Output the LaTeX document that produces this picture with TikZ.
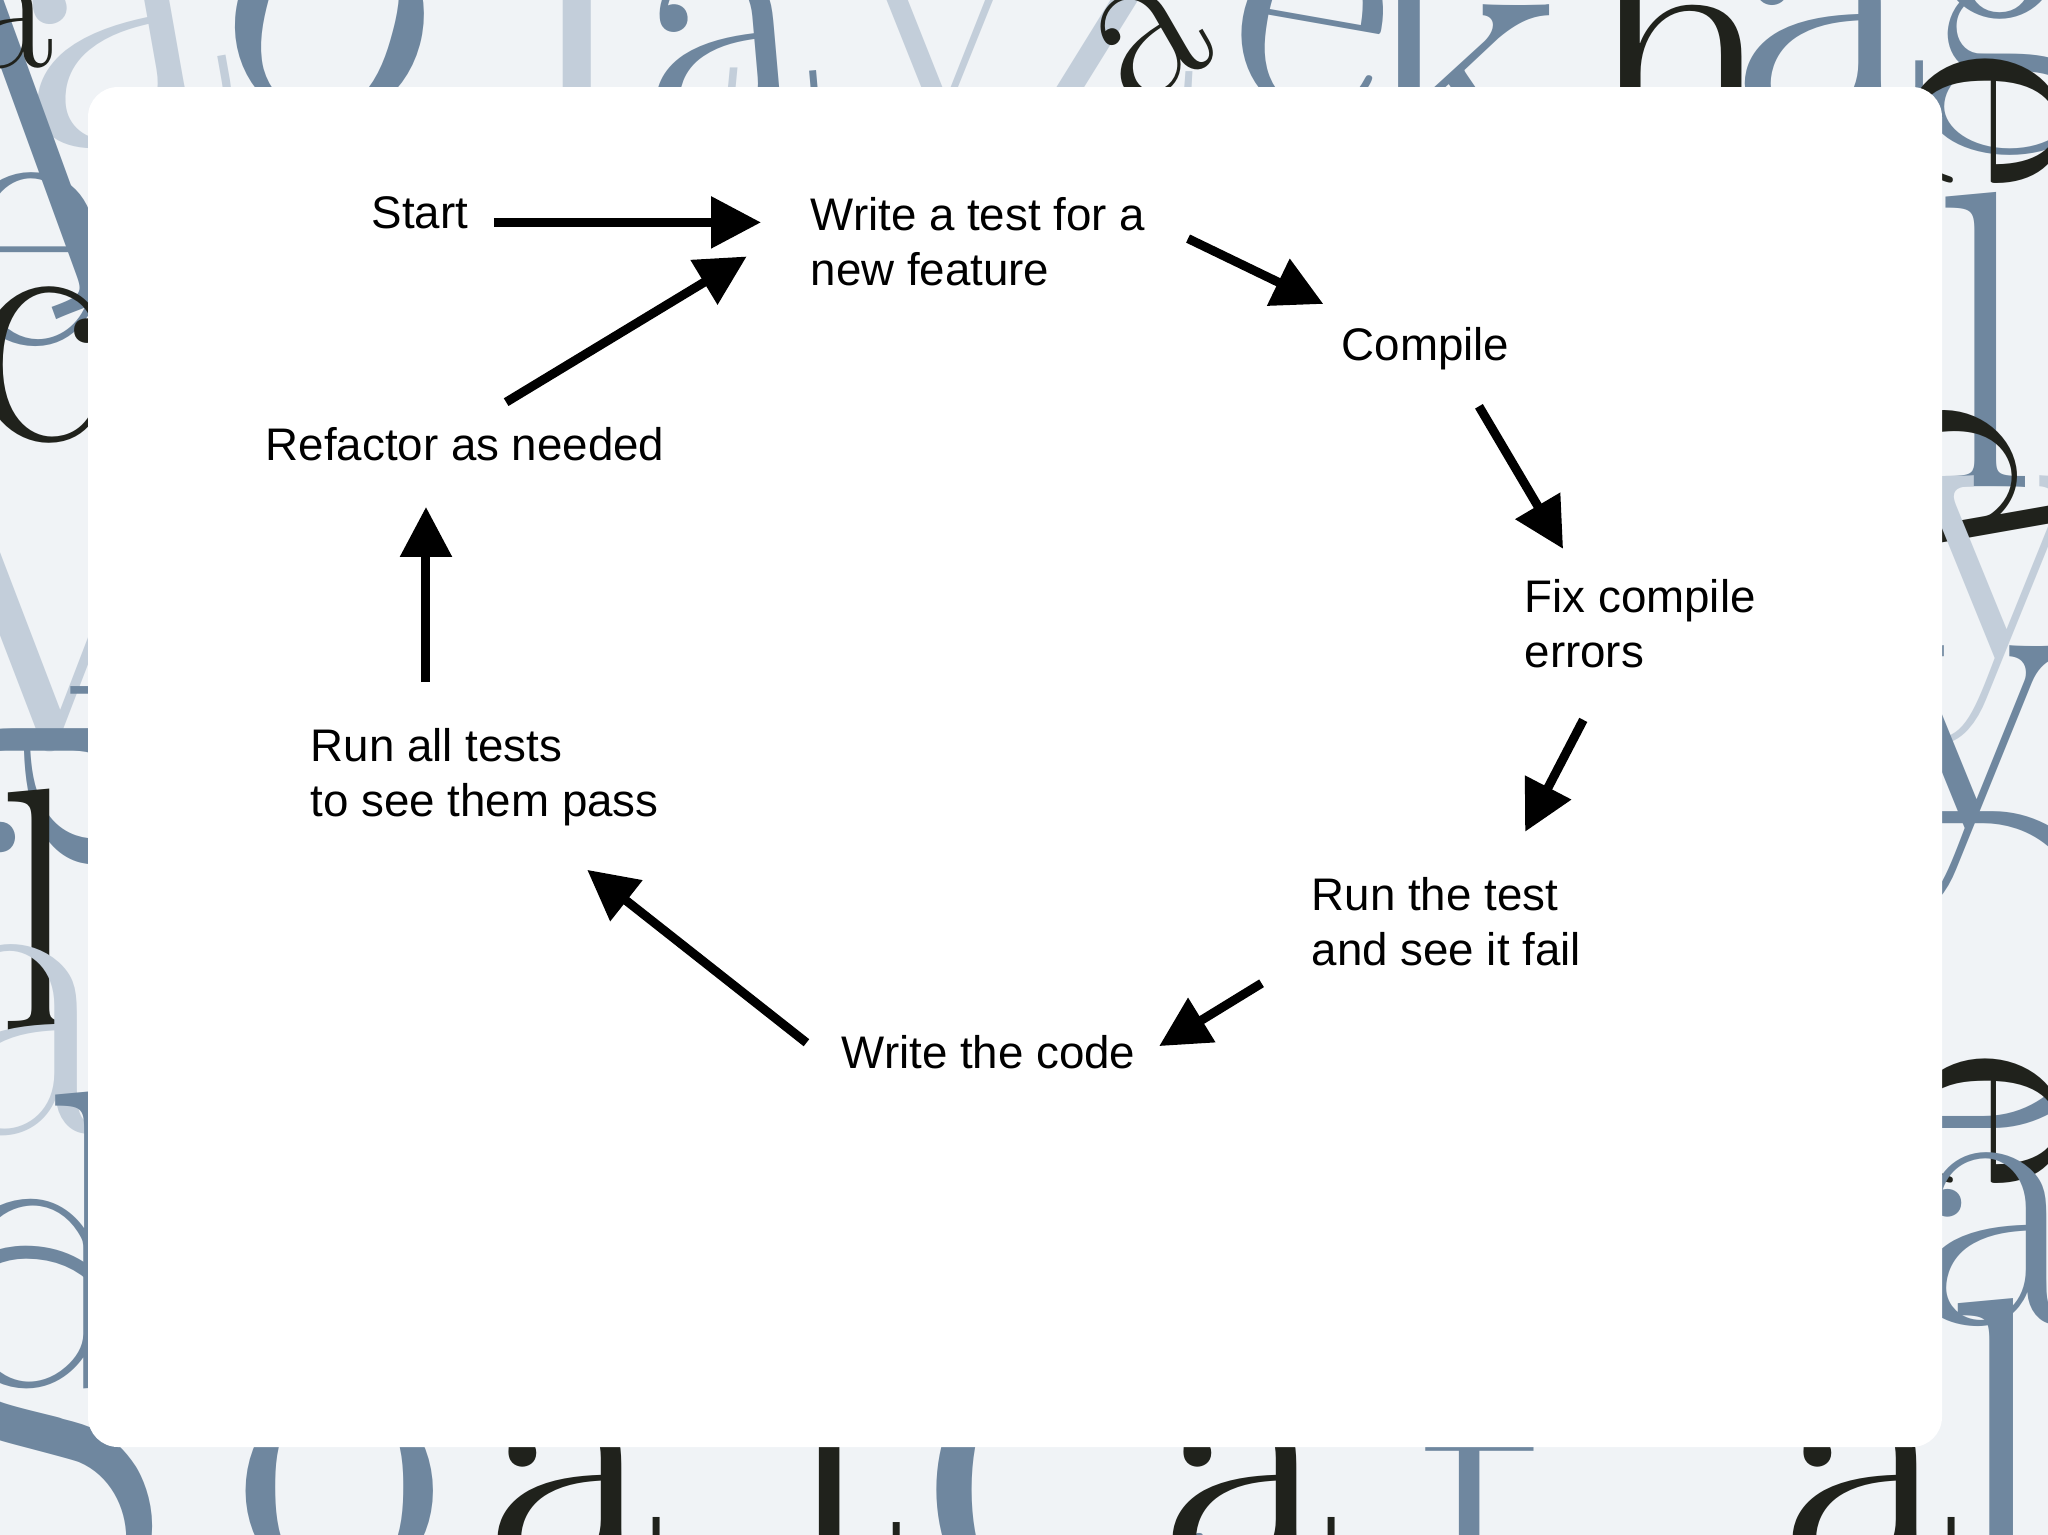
\documentclass[tikz,border=0pt]{standalone}
\usepackage{fontspec}
\setsansfont{Liberation Sans}
\usepackage{tikz}
\usetikzlibrary{arrows.meta}

\definecolor{framebase}{HTML}{F0F3F6}
\definecolor{frameblue}{HTML}{6F879F}
\definecolor{framelight}{HTML}{C3CEDA}
\definecolor{framedark}{HTML}{20221C}

\begin{document}
\begin{tikzpicture}[
			stage/.style={font=\sffamily\fontsize{13}{15.5}\selectfont, inner sep=0pt, anchor=north west, align=left},
			flow/.style={line width=0.09cm, -{Triangle[length=0.5cm,width=0.5cm]}},
			deco/.style={font=\fontsize{110}{110}\selectfont, inner sep=0pt}
			]
			
			\useasboundingbox (0,0) rectangle (20.48,-15.35);
			
			% lettered frame
			\begin{scope}
				\clip (0,0) rectangle (20.48,-15.35);
				\fill[framebase] (0,0) rectangle (20.48,-15.35);
				\foreach \x/\y/\r/\c/\s/\l in {
					1.2/-0.4/10/framelight/1.2/a, 3.3/-0.2/-15/frameblue/1.2/o, 6.3/-0.3/0/framelight/1.1/L,
					7.3/-0.5/5/frameblue/1/a, 9.4/-0.4/0/framelight/1/v, 11.0/-0.4/0/framelight/1/Z,
					11.5/-0.4/30/framedark/0.6/a, 13.1/-0.3/-10/frameblue/1/e, 14.6/-0.4/0/frameblue/1.1/k,
					16.8/-0.4/0/framedark/1/h, 18.3/-0.3/0/frameblue/1.1/a, 20.1/-0.3/0/frameblue/1/g,
					0.4/-1.4/20/frameblue/1.3/l, 0.1/-0.26/0/framedark/0.5/a,
					19.85/-1.2/-90/framedark/0.9/e, 19.85/-3.4/0/frameblue/1.1/l, 19.85/-4.8/-80/framedark/0.9/d,
					20.0/-6.1/0/framelight/1.1/y, 19.7/-7.8/0/frameblue/1.1/y, 19.85/-9.7/0/frameblue/1.2/D,
					19.85/-11.2/-90/framedark/0.9/e, 20.0/-12.4/0/frameblue/1/a, 20.0/-14.6/0/frameblue/1.2/l,
					0.4/-14.4/0/frameblue/1.4/S, 3.4/-14.9/0/frameblue/1.2/o, 5.75/-14.9/0/framedark/1/a,
					8.5/-14.75/0/framedark/1/t, 10.7/-14.9/0/frameblue/1.2/C, 12.5/-14.9/0/framedark/1/a,
					14.9/-14.9/0/frameblue/1/t, 18.7/-14.9/0/framedark/1/a,
					0.26/-2.6/0/frameblue/1/e, 0.4/-3.65/0/framedark/0.9/c, 0.5/-5.9/0/framelight/1.2/V,
					0.4/-7.8/90/frameblue/1.1/a, 0.4/-9.1/0/framedark/0.9/l, 0.26/-10.4/0/framelight/1.1/a,
					0.4/-12.4/0/frameblue/1.1/d}
				\node[deco, text=\c, rotate=\r, scale=\s] at (\x,\y) {\l};
			\end{scope}
			
			% white panel
			\fill[white, rounded corners=0.3cm] (0.88,-0.87) rectangle (19.42,-14.47);
			
			% stages
			\node[stage] (start) at (3.71,-1.96) {Start};
			\node[stage] (write) at (8.10,-1.97) {Write a test for a\\new feature};
			\node[stage] (compile) at (13.41,-3.27) {Compile};
			\node[stage] (refactor) at (2.65,-4.27) {Refactor as needed};
			\node[stage] (fix) at (15.24,-5.79) {Fix compile\\errors};
			\node[stage] (runall) at (3.10,-7.28) {Run all tests\\to see them pass};
			\node[stage] (runtest) at (13.11,-8.77) {Run the test\\and see it fail};
			\node[stage] (code) at (8.41,-10.35) {Write the code};
			
			% cycle
			\draw[flow, shorten <=0.25cm, shorten >=0.49cm] (start.-11) -- (start.-11 -| write.west);
			\draw[flow, shorten <=0.48cm, shorten >=0.74cm] (refactor.north) -- (write.172);
			\draw[flow, shorten <=0.47cm, shorten >=0.53cm] (write.8) -- (compile.158);
			\draw[flow, shorten <=0.41cm, shorten >=0.35cm] (compile.-34) -- (fix.143);
			\draw[flow, shorten <=0.58cm, shorten >=0.51cm] (fix.236) -- (runtest.39);
			\draw[flow, shorten <=0.58cm, shorten >=0.27cm] (runtest.193) -- (code.-3);
			\draw[flow, shorten <=0.44cm, shorten >=0.70cm] (code.south west) -- (runall.-46);
			\draw[flow, shorten <=0.46cm, shorten >=0.45cm] (runall.140) -- (runall.140 |- refactor.south);
			
		\end{tikzpicture}
\end{document}
